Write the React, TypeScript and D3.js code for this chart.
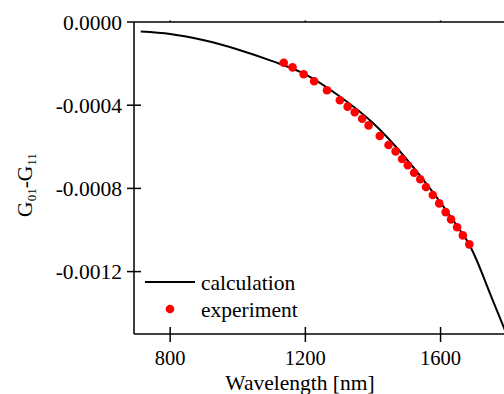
import React from "react";
import * as d3 from "d3";

const calcWavelength = [713, 800, 900, 1000, 1100, 1200, 1300, 1400, 1500, 1600, 1650, 1685, 1700, 1750, 1800, 1850];
const calcValue = [-0.000046, -0.000058, -0.000088, -0.000132, -0.000187, -0.000252, -0.000356, -0.000486, -0.00066, -0.000868, -0.000983, -0.00107, -0.00112, -0.00132, -0.00152, -0.00172];

const expWavelength = [1136, 1162, 1195, 1226, 1264, 1302, 1325, 1346, 1368, 1387, 1420, 1446, 1467, 1486, 1503, 1522, 1540, 1557, 1577, 1596, 1615, 1631, 1649, 1666, 1685];
const expValue = [-0.000196, -0.000218, -0.000251, -0.000285, -0.000328, -0.000376, -0.000407, -0.000434, -0.000465, -0.000497, -0.000548, -0.000591, -0.000622, -0.000659, -0.000689, -0.000725, -0.000756, -0.000793, -0.000832, -0.000872, -0.000914, -0.000949, -0.000987, -0.001026, -0.001069];

const xTicks = [800, 1200, 1600];
const yTicks = [0, -0.0004, -0.0008, -0.0012];
const yTickLabels = ["0.0000", "-0.0004", "-0.0008", "-0.0012"];
const legendLabels = ["calculation", "experiment"];

const FONT = "'Liberation Serif', 'Times New Roman', serif";

export default function App() {
  const W = 504, H = 394;
  const left = 134, top = 22, bottom = 334;
  const x = d3.scaleLinear().domain([693, 1800]).range([left, left + 1107 * 0.338]);
  const y = d3.scaleLinear().domain([-0.0015, 0]).range([bottom, top]);

  const calc = calcWavelength.map((w, i) => [w, calcValue[i]] as [number, number]);
  const line = d3.line<[number, number]>().x(d => x(d[0])).y(d => y(d[1])).curve(d3.curveMonotoneX);

  return (
    <svg width={W} height={H} style={{ position: "absolute", left: 0, top: 0, background: "#fff" }}>
      <defs>
        <clipPath id="plot">
          <rect x={left} y={top} width={W - left} height={bottom - top} />
        </clipPath>
      </defs>
      <g clipPath="url(#plot)">
        <path d={line(calc) || ""} fill="none" stroke="#000" strokeWidth={2} />
        {expWavelength.map((w, i) => (
          <circle key={i} cx={x(w)} cy={y(expValue[i])} r={4.3} fill="#ff0000" />
        ))}
      </g>
      {/* frame */}
      <line x1={left} x2={W} y1={top} y2={top} stroke="#000" strokeWidth={1.5} />
      <line x1={left} x2={W} y1={bottom} y2={bottom} stroke="#000" strokeWidth={1.5} />
      <line x1={left} x2={left} y1={top} y2={bottom} stroke="#000" strokeWidth={1.5} />
      {/* x ticks */}
      {xTicks.map(t => (
        <g key={t}>
          <line x1={x(t)} x2={x(t)} y1={bottom - 7} y2={bottom + 8} stroke="#000" strokeWidth={1.5} />
          <line x1={x(t)} x2={x(t)} y1={top - 1.5} y2={top} stroke="#000" strokeWidth={1.5} />
          <text x={x(t)} y={365} textAnchor="middle" fontFamily={FONT} fontSize={20.5} fill="#000">{t}</text>
        </g>
      ))}
      {/* y ticks */}
      {yTicks.map((t, i) => (
        <g key={t}>
          <line x1={left - 7} x2={t === 0 ? left : left + 7} y1={y(t)} y2={y(t)} stroke="#000" strokeWidth={1.5} />
          <text x={122} y={y(t)} dy="0.35em" textAnchor="end" fontFamily={FONT} fontSize={21.5} fill="#000">{yTickLabels[i]}</text>
        </g>
      ))}
      {/* axis titles */}
      <text x={300} y={390} textAnchor="middle" fontFamily={FONT} fontSize={21.5} fill="#000">Wavelength [nm]</text>
      <text transform="translate(32,185) rotate(-90)" textAnchor="middle" fontFamily={FONT} fontSize={21.5} fill="#000">
        G<tspan fontSize={13} dy={4}>01</tspan><tspan dy={-4}>-G</tspan><tspan fontSize={13} dy={4}>11</tspan>
      </text>
      {/* legend */}
      <line x1={145} x2={195} y1={282} y2={282} stroke="#000" strokeWidth={2} />
      <text x={201} y={290} fontFamily={FONT} fontSize={21.5} fill="#000">{legendLabels[0]}</text>
      <circle cx={170} cy={309} r={4.3} fill="#ff0000" />
      <text x={201} y={317} fontFamily={FONT} fontSize={21.5} fill="#000">{legendLabels[1]}</text>
    </svg>
  );
}
